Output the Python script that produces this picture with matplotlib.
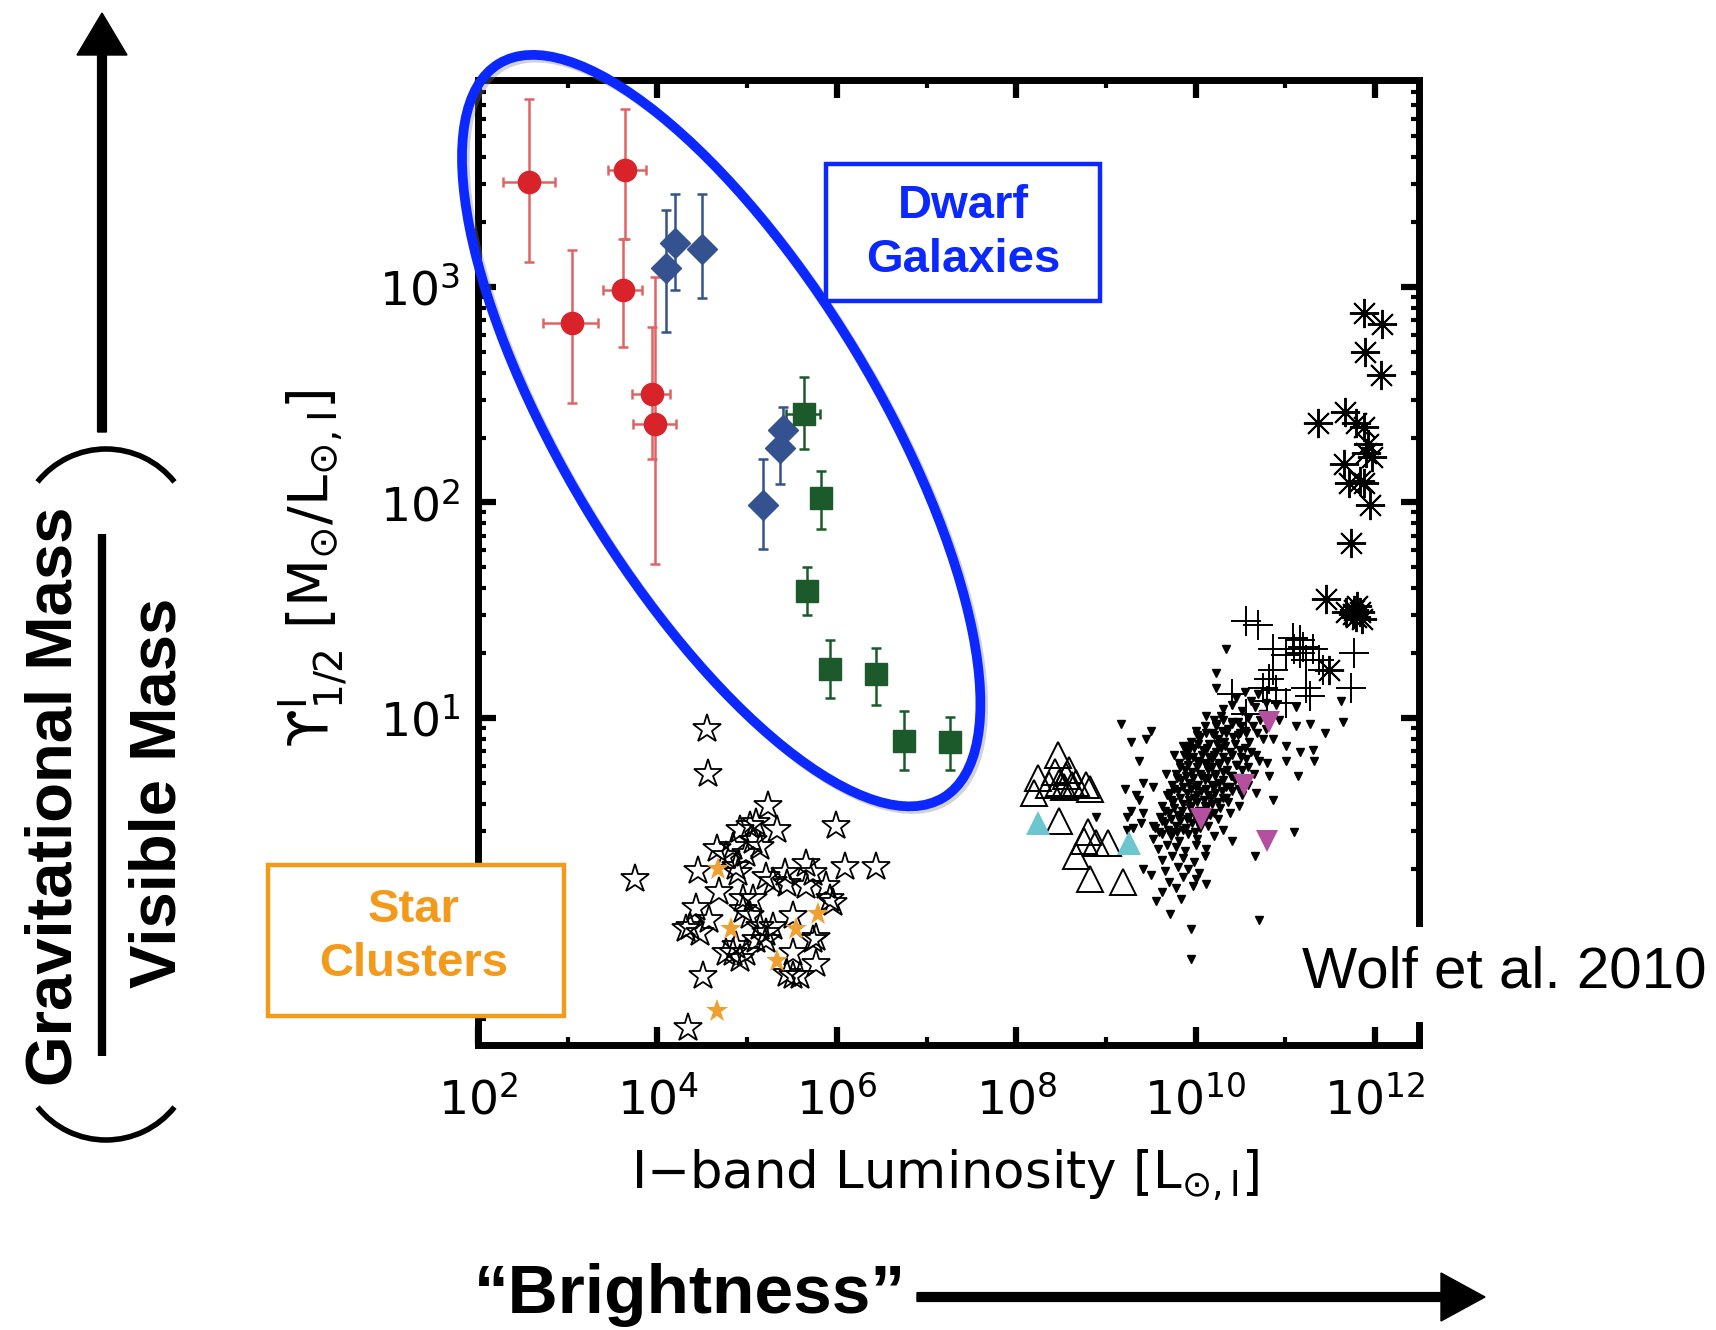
import numpy as np
import matplotlib.pyplot as plt
import matplotlib.patheffects as pe
from matplotlib.patches import Ellipse, Rectangle, FancyArrow, Arc
from matplotlib.lines import Line2D
from matplotlib.ticker import FixedLocator, LogLocator, FuncFormatter, NullFormatter

W, H = 1716, 1330  # canvas in pixels at dpi 100

# --- dwarf spheroidals (red circles): luminosity, M/L and error ranges
red_L = [3.7e2, 4.4e3, 4.1e3, 1.12e3, 8.7e3, 9.5e3]
red_Llo = [1.9e2, 2.8e3, 2.5e3, 5.3e2, 5.25e3, 5.4e3]
red_Lhi = [7.2e2, 7.4e3, 6.8e3, 2.18e3, 1.39e4, 1.6e4]
red_M = [3070, 3480, 966, 677, 317, 230]
red_Mlo = [1310, 1675, 527, 288, 159, 52]
red_Mhi = [7480, 6710, 1660, 1490, 653, 1110]

# --- blue diamonds
blue_L = [1.26e4, 1.56e4, 3.15e4, 2.5e5, 2.34e5, 1.5e5]
blue_M = [1217, 1590, 1493, 216, 178, 97]
blue_Mlo = [620, 966, 884, 170, 122, 61]
blue_Mhi = [2285, 2710, 2710, 278, 230, 159]

# --- green squares
green_L = [4.3e5, 6.6e5, 4.7e5, 8.5e5, 2.75e6, 5.55e6, 1.84e7]
green_Llo = [2.73e5, 5.6e5, 4.0e5, 7.2e5, 2.3e6, 4.7e6, 1.55e7]
green_Lhi = [6.44e5, 7.8e5, 5.5e5, 1.0e6, 3.3e6, 6.6e6, 2.2e7]
green_M = [256, 105, 38.9, 16.8, 15.9, 7.8, 7.7]
green_Mlo = [176, 75, 29.9, 12.3, 11.5, 5.7, 5.7]
green_Mhi = [380, 140, 49.9, 23.0, 21.2, 10.8, 10.1]

# --- globular clusters (open stars), log10 L and log10 M/L
gc_logL = [4.55, 4.56, 5.23, 5.33, 5.03, 4.92, 5.07, 4.84, 5.14, 5.99,
           3.75, 4.45, 4.90, 4.99, 5.21, 5.29, 5.42, 5.66, 5.73, 6.09,
           6.44, 5.88, 5.92, 4.43, 4.69, 4.36, 4.47, 4.58, 4.95, 5.03,
           5.14, 5.21, 5.29, 4.88, 4.84, 4.99, 5.21, 5.51, 5.77, 5.51,
           5.77, 5.51, 5.59, 4.51, 4.34, 5.10, 4.95, 5.07, 4.66, 5.44,
           5.96, 5.66, 4.77, 4.88, 4.32, 4.92, 4.77, 5.10, 5.44, 5.73]
gc_logM = [0.95, 0.74, 0.59, 0.48, 0.50, 0.48, 0.43, 0.40, 0.40, 0.50,
           0.25, 0.29, 0.28, 0.37, 0.26, 0.24, 0.28, 0.32, 0.28, 0.31,
           0.31, 0.22, 0.16, 0.12, 0.19, 0.03, 0.00, 0.06, 0.11, 0.08,
           0.03, 0.00, 0.03, -0.06, -0.09, -0.09, -0.03, 0.08, -0.02, -0.09,
           -0.14, -0.20, -0.20, -0.20, -0.44, 0.51, 0.16, 0.16, 0.39, 0.23,
           0.14, 0.22, 0.36, 0.31, 0.02, -0.12, -0.09, -0.03, -0.19, -0.03]

# orange filled stars
gco_logL = [4.68, 4.82, 5.55, 5.79, 5.33, 4.66]
gco_logM = [0.30, 0.02, 0.02, 0.09, -0.13, -0.36]

# --- open triangles and cyan filled triangles
tri_logL = [8.47, 8.24, 8.20, 8.43, 8.56, 8.67, 8.78, 8.82, 8.48, 8.37, 8.48,
            8.80, 8.76, 9.02, 8.67, 8.82, 9.19, 8.89, 8.59, 8.53, 8.62]
tri_logM = [0.83, 0.72, 0.65, 0.75, 0.73, 0.70, 0.69, 0.67, 0.70, 0.69, 0.52,
            0.47, 0.43, 0.42, 0.36, 0.25, 0.24, 0.42, 0.76, 0.68, 0.69]
cyan_logL = [8.24, 9.26]
cyan_logM = [0.51, 0.42]

# --- magenta down triangles
mag_logL = [10.82, 10.54, 10.06, 10.80]
mag_logM = [0.98, 0.69, 0.53, 0.43]

# --- plus signs
plus_logL = [10.56, 10.70, 10.86, 11.08, 11.16, 11.23, 11.01, 11.31, 11.77, 10.41,
             10.82, 10.75, 10.90, 11.23, 11.27, 11.73, 10.56, 10.79, 11.01, 10.86,
             11.38, 11.16, 11.42, 11.10, 11.20]
plus_logM = [1.45, 1.43, 1.32, 1.37, 1.30, 1.27, 1.29, 1.32, 1.30, 1.11,
             1.18, 1.14, 1.13, 1.14, 1.10, 1.14, 1.02, 1.08, 1.07, 1.22,
             1.27, 1.36, 1.22, 1.32, 1.33]

# --- asterisks
ast_logL = [11.88, 12.08, 11.89, 12.07, 11.36, 11.67, 11.79, 11.88, 11.92, 11.90,
            11.97, 11.65, 11.71, 11.83, 11.88, 11.94, 11.73, 11.45, 11.68, 11.75,
            11.79, 11.83, 11.86, 11.49, 11.76, 11.80]
ast_logM = [2.88, 2.83, 2.70, 2.59, 2.37, 2.42, 2.37, 2.35, 2.27, 2.23,
            2.21, 2.18, 2.09, 2.10, 2.09, 1.99, 1.81, 1.55, 1.49, 1.48,
            1.47, 1.49, 1.46, 1.22, 1.50, 1.52]

# --- small dots (log L, log M/L)
dots = [
    (9.17, 0.97), (9.50, 0.94), (9.28, 0.89), (9.45, 0.90), (9.37, 0.80), (9.76, 0.83),
    (9.21, 0.67), (9.41, 0.70), (9.52, 0.68), (9.34, 0.64), (9.37, 0.62), (9.28, 0.57),
    (9.23, 0.54), (9.39, 0.51), (8.89, 0.54), (9.30, 0.49), (9.75, 0.47), (9.41, 0.30),
    (9.50, 0.27), (9.56, 0.15), (9.71, 0.09), (9.84, 0.16), (9.95, 0.02), (9.95, -0.12),
    (9.97, 0.22), (10.12, 0.23), (10.71, 0.06), (10.66, 0.36), (11.10, 0.47), (11.14, 0.73),
    (11.31, 0.85), (11.32, 0.80), (11.44, 0.93), (11.64, 0.98), (11.27, 0.97), (10.12, 1.01),
    (10.04, 0.91), (10.30, 0.99), (10.34, 1.32), (10.23, 1.21), (10.23, 1.14), (9.93, 0.85),
    (10.41, 0.97), (10.64, 0.96), (11.12, 1.05), (11.62, 1.08), (11.12, 0.96), (10.93, 0.99),
    (10.86, 0.90), (11.01, 0.87), (11.16, 0.84), (10.71, 0.80), (10.23, 0.96), (10.34, 0.93),
    (10.49, 0.93), (9.86, 0.87), (9.67, 0.74), (9.71, 0.65), (10.04, 0.79), (9.82, 0.54),
    (9.41, 0.56), (9.52, 0.50), (9.24, 0.48), (10.67, 0.65), (10.82, 0.73), (10.86, 0.62),
    (11.01, 0.80),
    (10.45, 1.09), (10.55, 1.12), (10.62, 1.08), (10.70, 1.11), (10.78, 1.07),
    (10.30, 1.04), (10.40, 1.06), (10.52, 1.03), (10.66, 1.05), (10.75, 1.02), (10.90, 1.06),
    (10.20, 0.99), (10.28, 1.01), (10.47, 0.98), (10.58, 1.00), (10.72, 0.99), (10.84, 1.01),
    (10.00, 0.94), (10.10, 0.96), (10.18, 0.93), (10.36, 0.95), (10.55, 0.94), (10.68, 0.93),
    (10.78, 0.95), (9.95, 0.89), (10.05, 0.91), (10.15, 0.88), (10.25, 0.90), (10.32, 0.89),
    (10.42, 0.91), (10.60, 0.89), (10.75, 0.90), (9.90, 0.84), (9.98, 0.86), (10.08, 0.85),
    (10.20, 0.83), (10.28, 0.86), (10.38, 0.84), (10.50, 0.85), (10.62, 0.84), (9.82, 0.79),
    (9.92, 0.81), (10.02, 0.80), (10.12, 0.78), (10.18, 0.81), (10.26, 0.79), (10.35, 0.80),
    (10.45, 0.78), (10.56, 0.81), (10.80, 0.79), (9.78, 0.74), (9.88, 0.76), (9.96, 0.75),
    (10.06, 0.73), (10.14, 0.76), (10.22, 0.74), (10.30, 0.75), (10.40, 0.73), (10.52, 0.76),
    (10.65, 0.74), (9.74, 0.69), (9.84, 0.71), (9.93, 0.70), (10.00, 0.68), (10.10, 0.71),
    (10.18, 0.69), (10.26, 0.70), (10.34, 0.68), (10.44, 0.71), (10.58, 0.69), (9.68, 0.64),
    (9.80, 0.66), (9.90, 0.65), (9.98, 0.63), (10.06, 0.66), (10.14, 0.64), (10.22, 0.65),
    (10.30, 0.63), (10.40, 0.66), (10.52, 0.64), (9.62, 0.59), (9.75, 0.61), (9.86, 0.60),
    (9.94, 0.58), (10.02, 0.61), (10.10, 0.59), (10.18, 0.60), (10.27, 0.58), (10.36, 0.61),
    (10.48, 0.59), (9.60, 0.54), (9.70, 0.56), (9.80, 0.55), (9.90, 0.53), (9.98, 0.56),
    (10.08, 0.54), (10.16, 0.55), (10.25, 0.53), (10.38, 0.56), (9.55, 0.49), (9.66, 0.51),
    (9.78, 0.50), (9.86, 0.48), (9.96, 0.51), (10.05, 0.49), (10.14, 0.50), (10.30, 0.48),
    (9.52, 0.44), (9.62, 0.46), (9.72, 0.45), (9.82, 0.43), (9.92, 0.46), (10.02, 0.44),
    (10.20, 0.45), (10.40, 0.43), (9.58, 0.39), (9.68, 0.41), (9.78, 0.40), (9.88, 0.38),
    (10.00, 0.41), (10.12, 0.39), (9.62, 0.34), (9.74, 0.36), (9.86, 0.35), (9.98, 0.33),
    (10.10, 0.36), (9.66, 0.29), (9.80, 0.31), (9.92, 0.30), (10.04, 0.28), (9.70, 0.24),
    (9.86, 0.26), (10.00, 0.25), (9.62, 0.19), (9.78, 0.21),
    (10.23, 0.97), (10.41, 0.98), (10.51, 0.96), (10.02, 0.92), (10.12, 0.93), (10.21, 0.92),
    (10.29, 0.94), (10.47, 0.92), (10.56, 0.93), (9.93, 0.87), (10.03, 0.88), (10.13, 0.86),
    (10.24, 0.88), (10.33, 0.87), (10.44, 0.88), (10.55, 0.86), (9.87, 0.83), (9.97, 0.82),
    (10.07, 0.83), (10.15, 0.82), (10.23, 0.84), (10.31, 0.82), (10.41, 0.83), (10.51, 0.82),
    (10.67, 0.83), (9.83, 0.77), (9.92, 0.78), (10.01, 0.77), (10.10, 0.79), (10.18, 0.77),
    (10.26, 0.78), (10.35, 0.76), (10.46, 0.78), (10.58, 0.77), (9.79, 0.72), (9.89, 0.73),
    (9.97, 0.72), (10.05, 0.74), (10.14, 0.72), (10.22, 0.73), (10.30, 0.71), (10.39, 0.73),
    (10.50, 0.72), (9.76, 0.67), (9.86, 0.68), (9.95, 0.67), (10.03, 0.69), (10.12, 0.67),
    (10.21, 0.68), (10.29, 0.66), (10.38, 0.68), (10.48, 0.67), (9.72, 0.62), (9.83, 0.63),
    (9.93, 0.62), (10.01, 0.64), (10.09, 0.62), (10.17, 0.63), (10.25, 0.61), (10.34, 0.63),
    (9.66, 0.57), (9.76, 0.58), (9.85, 0.57), (9.95, 0.59), (10.04, 0.57), (10.12, 0.58),
    (10.21, 0.56), (9.63, 0.52), (9.73, 0.53), (9.83, 0.52), (9.93, 0.54), (10.01, 0.52),
    (10.10, 0.53), (9.59, 0.47), (9.69, 0.48), (9.79, 0.47), (9.89, 0.49), (9.99, 0.47),
]

BLUE = '#0a28ff'
ORANGE = '#f39a1b'


def fx(x):
    return x / W


def fy(y):
    return 1 - y / H


def errs(v, lo, hi):
    v, lo, hi = np.asarray(v), np.asarray(lo), np.asarray(hi)
    return [v - lo, hi - v]


def tenpow(v, pos):
    return r'$10^{%d}$' % round(np.log10(v))


def tenpow_y(v, pos):
    # the 10^0 position sits behind the "Star Clusters" box
    if round(np.log10(v)) < 1:
        return ''
    return tenpow(v, pos)


plt.rcParams['mathtext.fontset'] = 'dejavusans'
plt.rcParams['font.family'] = ['DejaVu Sans']

fig = plt.figure(figsize=(W / 100, H / 100), dpi=100)
ax = fig.add_axes([fx(478), fy(1045), (1419 - 478) / W, (1045 - 80) / H])
ax.set_xscale('log')
ax.set_yscale('log')
ax.set_xlim(1e2, 10 ** 12.49)
ax.set_ylim(10 ** -0.518, 10 ** 3.96)

# scatter populations
dots = np.array(dots)
ax.plot(10 ** dots[:, 0], 10 ** dots[:, 1], ls='none', marker='v', ms=5.5, color='black', zorder=2)
ax.plot(10 ** np.array(gc_logL), 10 ** np.array(gc_logM), ls='none', marker='*', ms=21,
        mfc='none', mec='black', mew=1.3, zorder=3)
ax.plot(10 ** np.array(gco_logL), 10 ** np.array(gco_logM), ls='none', marker='*', ms=17,
        color='#f0a030', mew=0, zorder=4)
ax.plot(10 ** np.array(tri_logL), 10 ** np.array(tri_logM), ls='none', marker='^', ms=19,
        mfc='none', mec='black', mew=1.4, zorder=3)
ax.plot(10 ** np.array(cyan_logL), 10 ** np.array(cyan_logM), ls='none', marker='^', ms=17,
        color='#6cc6cf', mew=0, zorder=4)
ax.plot(10 ** np.array(mag_logL), 10 ** np.array(mag_logM), ls='none', marker='v', ms=16,
        color='#b4509f', mew=0, zorder=4)
ax.plot(10 ** np.array(plus_logL), 10 ** np.array(plus_logM), ls='none', marker='+', ms=22,
        color='black', mew=1.4, zorder=3)
ax.plot(10 ** np.array(ast_logL), 10 ** np.array(ast_logM), ls='none', marker=(8, 2, 0), ms=21,
        color='black', mew=1.4, zorder=3)

# dwarf galaxies with error bars
ax.errorbar(red_L, red_M, xerr=errs(red_L, red_Llo, red_Lhi), yerr=errs(red_M, red_Mlo, red_Mhi),
            fmt='o', ms=16, color='#d8232a', ecolor='#e06262', elinewidth=1.8,
            capsize=3.5, capthick=1.8, zorder=6)
ax.errorbar(blue_L, blue_M, yerr=errs(blue_M, blue_Mlo, blue_Mhi), fmt='D', ms=15,
            color='#34528f', elinewidth=1.8, capsize=3.5, capthick=1.8, zorder=6)
ax.errorbar(green_L, green_M, xerr=errs(green_L, green_Llo, green_Lhi),
            yerr=errs(green_M, green_Mlo, green_Mhi), fmt='s', ms=16,
            color='#1c5a2c', elinewidth=1.8, capsize=3.5, capthick=1.8, zorder=6)

# axes styling
ax.xaxis.set_major_locator(FixedLocator([1e2, 1e4, 1e6, 1e8, 1e10, 1e12]))
ax.xaxis.set_minor_locator(FixedLocator([1e3, 1e5, 1e7, 1e9, 1e11]))
ax.xaxis.set_major_formatter(FuncFormatter(tenpow))
ax.xaxis.set_minor_formatter(NullFormatter())
ax.yaxis.set_major_locator(LogLocator(base=10, numticks=12))
ax.yaxis.set_minor_locator(LogLocator(base=10, subs=np.arange(2, 10), numticks=12))
ax.yaxis.set_major_formatter(FuncFormatter(tenpow_y))
ax.yaxis.set_minor_formatter(NullFormatter())
for s in ax.spines.values():
    s.set_linewidth(5)
ax.tick_params(which='both', direction='in', top=True, right=True, labelsize=34)
ax.tick_params(which='major', length=13, width=4.5)
ax.tick_params(which='minor', length=6, width=3)
ax.tick_params(axis='x', pad=23)
ax.tick_params(axis='y', pad=13)

ax.set_xlabel(r'I$-$band Luminosity [L$_{\odot,\rm I}$]', fontsize=37)
ax.set_ylabel(r'$\mathrm{ϒ}^{\rm I}_{1/2}$ [M$_{\odot}$/L$_{\odot,\rm I}$]', fontsize=40)
ax.xaxis.label.set_va('center')
ax.yaxis.label.set_va('center')
ax.xaxis.set_label_coords(0.4963, -0.135)
ax.yaxis.set_label_coords(-0.1753, 0.4933)

# ellipse around the dwarf galaxies
ell = Ellipse((7.212, (H - 430.6) / 100), 8.58, 3.12, angle=-58.8,
              transform=fig.dpi_scale_trans, fill=False, ec=BLUE, lw=7, zorder=9,
              path_effects=[pe.SimpleLineShadow(offset=(2, -2), shadow_color='gray', alpha=0.35),
                            pe.Normal()])
fig.add_artist(ell)

# labelled boxes
fig.add_artist(Rectangle((fx(826), fy(301)), (1100 - 826) / W, (301 - 164) / H,
                         transform=fig.transFigure, fc='white', ec=BLUE, lw=3.2, zorder=10))
fig.text(fx(963), fy(233), 'Dwarf\nGalaxies', ha='center', va='center', color=BLUE,
         fontsize=34, fontweight='bold', family='Liberation Sans', linespacing=1.3, zorder=11)

fig.add_artist(Rectangle((fx(268), fy(1016)), (564 - 268) / W, (1016 - 865) / H,
                         transform=fig.transFigure, fc='white', ec=ORANGE, lw=3.2, zorder=10))
fig.text(fx(414), fy(937), 'Star\nClusters', ha='center', va='center', color=ORANGE,
         fontsize=34, fontweight='bold', family='Liberation Sans', linespacing=1.3, zorder=11)

# citation
fig.add_artist(Rectangle((fx(1290), fy(1022)), (W - 1290) / W, (1022 - 927) / H,
                         transform=fig.transFigure, fc='white', ec='none', zorder=10))
fig.text(fx(1302), fy(973), 'Wolf et al. 2010', ha='left', va='center', fontsize=42,
         family='Liberation Sans', zorder=11)

# schematic axes: vertical arrow and mass ratio in round brackets
fig.add_artist(FancyArrow(1.02, (H - 432) / 100, 0, (432 - 13) / 100, width=0.088,
                          head_width=0.5, head_length=0.42, length_includes_head=True,
                          color='black', transform=fig.dpi_scale_trans, zorder=5))
fig.add_artist(Line2D([fx(102), fx(102)], [fy(534), fy(1056)], transform=fig.transFigure,
                      lw=6, color='black', solid_capstyle='butt'))
fig.text(fx(55), fy(796), 'Gravitational Mass', rotation=90, ha='center', va='center',
         fontsize=47, fontweight='bold', family='Liberation Sans')
fig.text(fx(159), fy(793), 'Visible Mass', rotation=90, ha='center', va='center',
         fontsize=47, fontweight='bold', family='Liberation Sans')
fig.add_artist(Arc((1.06, (H - 536.6) / 100), 1.752, 1.752, theta1=38.6, theta2=141.4,
                   transform=fig.dpi_scale_trans, color='black', lw=4))
fig.add_artist(Arc((1.06, (H - 1052.4) / 100), 1.752, 1.752, theta1=218.6, theta2=321.4,
                   transform=fig.dpi_scale_trans, color='black', lw=4))

# horizontal arrow
fig.text(fx(906), fy(1313), '\u201cBrightness\u201d', ha='right', va='baseline',
         fontsize=50, fontweight='bold', family='Liberation Sans')
fig.add_artist(FancyArrow(9.17, (H - 1297) / 100, (1485 - 917) / 100, 0, width=0.088,
                          head_width=0.48, head_length=0.44, length_includes_head=True,
                          color='black', transform=fig.dpi_scale_trans, zorder=5))

fig.savefig('out.png', dpi=100, facecolor='white')
